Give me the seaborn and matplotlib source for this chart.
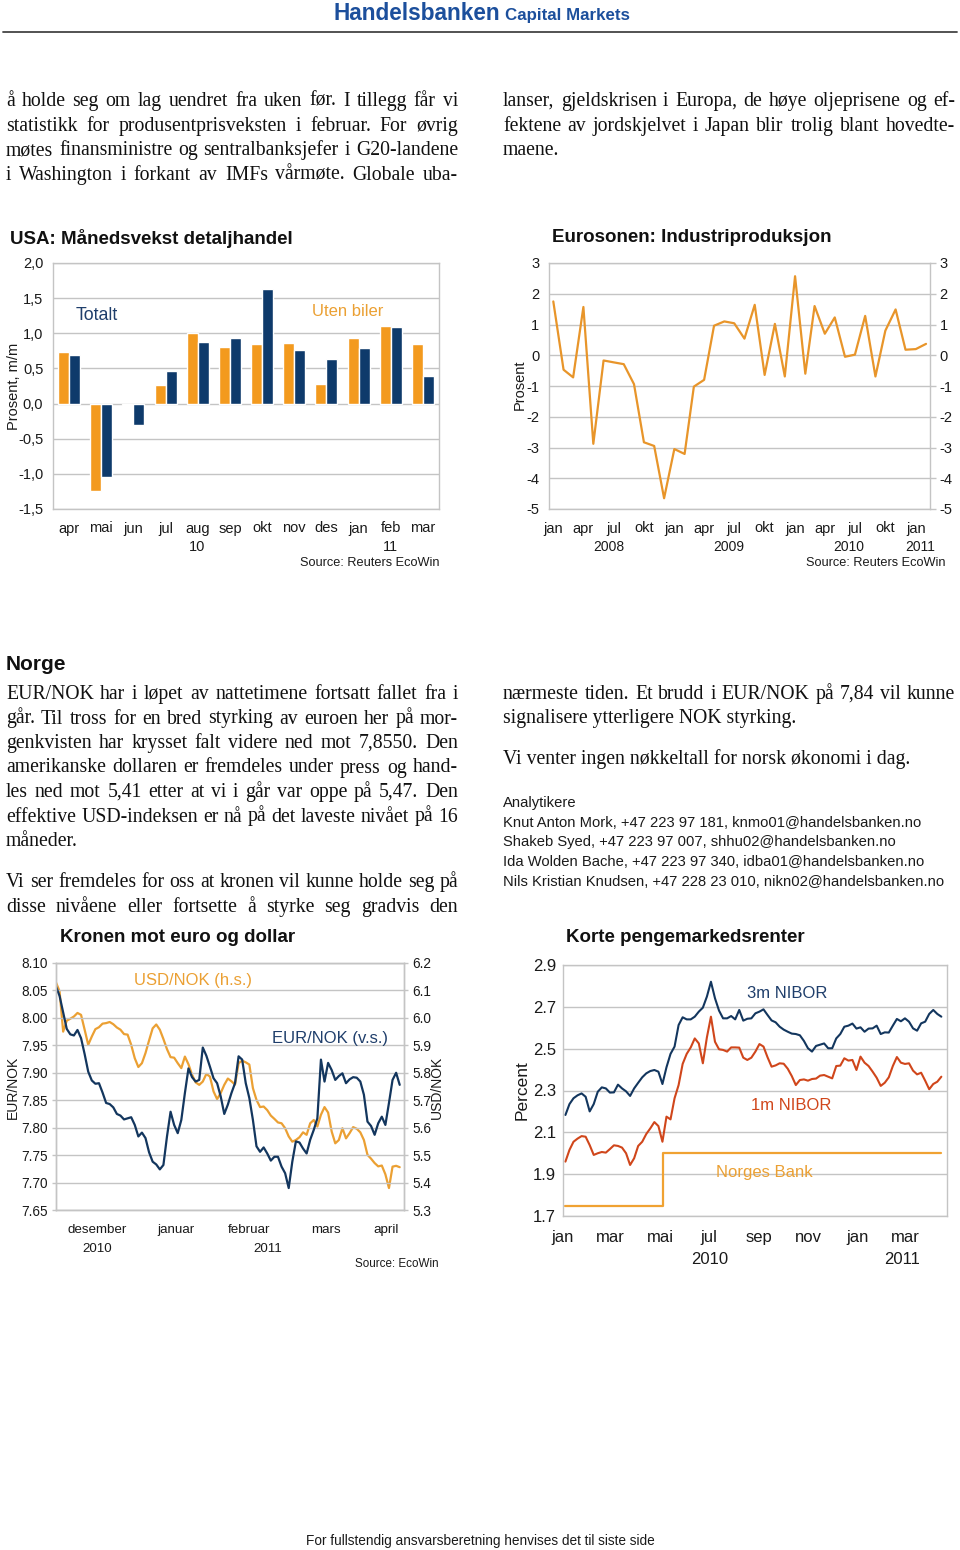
import numpy as np
import pandas as pd
import matplotlib
matplotlib.use("Agg")
import matplotlib.pyplot as plt
import matplotlib.dates as mdates
from matplotlib.lines import Line2D
from matplotlib.ticker import FuncFormatter, FixedLocator
import seaborn as sns

# ---------------- data ----------------
usa_months = ["apr", "mai", "jun", "jul", "aug", "sep", "okt", "nov", "des", "jan", "feb", "mar"]
usa_uten_biler = [0.73, -1.25, -0.02, 0.27, 1.01, 0.81, 0.85, 0.86, 0.28, 0.93, 1.10, 0.85]
usa_totalt = [0.69, -1.04, -0.30, 0.47, 0.88, 0.94, 1.63, 0.76, 0.64, 0.79, 1.09, 0.39]

euro_start = "2008-01-01"
euro_indprod = [1.75, -0.47, -0.72, 1.57, -2.88, -0.17, -0.23, -0.29, -0.94, -2.83, -2.95, -4.65,
                -3.05, -3.21, -1.02, -0.80, 0.96, 1.10, 1.04, 0.54, 1.64, -0.64, 1.02, -0.69,
                2.57, -0.60, 1.60, 0.70, 1.23, -0.05, 0.02, 1.28, -0.69, 0.80, 1.49, 0.18,
                0.20, 0.37]

nok_start = "2010-12-01"   # business days
eur_nok = [8.057, 8.040, 8.010, 7.980, 7.970, 7.968, 7.978, 7.963, 7.934, 7.902,
           7.886, 7.880, 7.881, 7.864, 7.845, 7.843, 7.837, 7.825, 7.822, 7.815,
           7.817, 7.819, 7.805, 7.784, 7.791, 7.781, 7.755, 7.738, 7.733, 7.724,
           7.732, 7.784, 7.829, 7.805, 7.790, 7.814, 7.863, 7.908, 7.892, 7.884,
           7.887, 7.946, 7.931, 7.911, 7.890, 7.881, 7.857, 7.825, 7.842, 7.863,
           7.881, 7.930, 7.924, 7.881, 7.854, 7.814, 7.766, 7.756, 7.764, 7.753,
           7.740, 7.747, 7.747, 7.729, 7.717, 7.690, 7.738, 7.775, 7.773, 7.762,
           7.753, 7.778, 7.796, 7.817, 7.924, 7.884, 7.918, 7.905, 7.887, 7.894,
           7.899, 7.881, 7.888, 7.892, 7.891, 7.884, 7.860, 7.811, 7.803, 7.787,
           7.808, 7.820, 7.805, 7.845, 7.887, 7.900, 7.878]
usd_nok = [6.129, 6.097, 5.950, 5.990, 5.997, 6.005, 6.018, 6.011, 5.957, 5.902,
           5.932, 5.959, 5.966, 5.979, 5.981, 5.985, 5.977, 5.965, 5.957, 5.941,
           5.939, 5.902, 5.853, 5.821, 5.835, 5.872, 5.918, 5.962, 5.976, 5.957,
           5.923, 5.886, 5.857, 5.855, 5.835, 5.817, 5.859, 5.831, 5.793, 5.765,
           5.756, 5.768, 5.796, 5.786, 5.732, 5.704, 5.726, 5.756, 5.779, 5.769,
           5.757, 5.835, 5.844, 5.838, 5.830, 5.744, 5.701, 5.675, 5.677, 5.664,
           5.644, 5.632, 5.619, 5.616, 5.598, 5.568, 5.549, 5.555, 5.565, 5.583,
           5.574, 5.616, 5.628, 5.604, 5.647, 5.675, 5.655, 5.586, 5.543, 5.555,
           5.598, 5.561, 5.580, 5.602, 5.596, 5.583, 5.555, 5.501, 5.487, 5.471,
           5.459, 5.462, 5.430, 5.380, 5.458, 5.461, 5.456]

nibor_start = "2010-01-04"   # every 5 days
nibor_3m = [2.183, 2.235, 2.263, 2.277, 2.286, 2.270, 2.200, 2.235, 2.294, 2.315,
            2.310, 2.290, 2.291, 2.328, 2.310, 2.296, 2.274, 2.310, 2.337, 2.363,
            2.382, 2.393, 2.398, 2.390, 2.331, 2.411, 2.475, 2.510, 2.613, 2.650,
            2.640, 2.640, 2.653, 2.677, 2.696, 2.749, 2.820, 2.741, 2.682, 2.645,
            2.645, 2.656, 2.640, 2.685, 2.634, 2.643, 2.645, 2.669, 2.677, 2.688,
            2.661, 2.635, 2.626, 2.605, 2.591, 2.581, 2.572, 2.570, 2.564, 2.537,
            2.502, 2.486, 2.513, 2.519, 2.525, 2.502, 2.502, 2.549, 2.570, 2.605,
            2.610, 2.620, 2.596, 2.602, 2.581, 2.596, 2.597, 2.610, 2.570, 2.578,
            2.577, 2.610, 2.642, 2.631, 2.645, 2.629, 2.597, 2.586, 2.621, 2.629,
            2.666, 2.685, 2.666, 2.653]
nibor_1m = [1.960, 2.016, 2.055, 2.070, 2.082, 2.079, 2.039, 1.992, 2.000, 2.006,
            2.003, 2.020, 2.038, 2.035, 2.027, 2.000, 1.944, 1.976, 2.035, 2.055,
            2.092, 2.119, 2.149, 2.130, 2.055, 2.175, 2.162, 2.263, 2.326, 2.427,
            2.475, 2.506, 2.549, 2.525, 2.430, 2.554, 2.653, 2.533, 2.497, 2.494,
            2.486, 2.506, 2.506, 2.505, 2.457, 2.446, 2.457, 2.486, 2.522, 2.510,
            2.459, 2.414, 2.420, 2.430, 2.428, 2.404, 2.369, 2.326, 2.350, 2.353,
            2.347, 2.355, 2.357, 2.371, 2.374, 2.366, 2.358, 2.417, 2.419, 2.454,
            2.443, 2.446, 2.398, 2.462, 2.433, 2.417, 2.390, 2.361, 2.322, 2.337,
            2.363, 2.417, 2.460, 2.433, 2.427, 2.430, 2.395, 2.377, 2.385, 2.347,
            2.306, 2.331, 2.342, 2.366]
norges_bank_dates = ["2010-01-04", "2010-05-05", "2011-04-13"]
norges_bank_rate = [1.75, 2.00, 2.00]

mnd_kort = ["jan", "feb", "mar", "apr", "mai", "jun", "jul", "aug", "sep", "okt", "nov", "des"]
mnd_lang = ["januar", "februar", "mars", "april", "mai", "juni", "juli", "august",
            "september", "oktober", "november", "desember"]

# ---------------- page text ----------------
top_left = ["å holde seg om lag uendret fra uken før. I tillegg får vi",
            "statistikk for produsentprisveksten i februar. For øvrig",
            "møtes finansministre og sentralbanksjefer i G20-landene",
            "i Washington i forkant av IMFs vårmøte. Globale uba-"]
top_right = ["lanser, gjeldskrisen i Europa, de høye oljeprisene og ef-",
             "fektene av jordskjelvet i Japan blir trolig blant hovedte-",
             "maene."]
norge_left = ["EUR/NOK har i løpet av nattetimene fortsatt fallet fra i",
              "går. Til tross for en bred styrking av euroen her på mor-",
              "genkvisten har krysset falt videre ned mot 7,8550. Den",
              "amerikanske dollaren er fremdeles under press og hand-",
              "les ned mot 5,41 etter at vi i går var oppe på 5,47. Den",
              "effektive USD-indeksen er nå på det laveste nivået på 16",
              "måneder."]
norge_left2 = ["Vi ser fremdeles for oss at kronen vil kunne holde seg på",
               "disse nivåene eller fortsette å styrke seg gradvis den"]
norge_right = ["nærmeste tiden. Et brudd i EUR/NOK på 7,84 vil kunne",
               "signalisere ytterligere NOK styrking."]
analytikere = ["Analytikere",
               "Knut Anton Mork, +47 223 97 181, knmo01@handelsbanken.no",
               "Shakeb Syed, +47 223 97 007, shhu02@handelsbanken.no",
               "Ida Wolden Bache, +47 223 97 340, idba01@handelsbanken.no",
               "Nils Kristian Knudsen, +47 228 23 010, nikn02@handelsbanken.no"]

# ---------------- style ----------------
sns.set_style("white")
plt.rcParams["font.family"] = ["Liberation Sans", "DejaVu Sans"]
plt.rcParams["axes.unicode_minus"] = False

ORANGE = "#F39A1E"
ORANGE_L = "#EBA033"
NAVY = "#0E3A6B"
LINE_NAVY = "#13365E"
RED = "#D0461B"
GRID = "#C4C4C4"
TXT = "#1A1A1A"

W, H = 960, 1550
fig = plt.figure(figsize=(W / 100, H / 100), dpi=100)


def rect(x0, y0, x1, y1):
    return [x0 / W, 1 - y1 / H, (x1 - x0) / W, (y1 - y0) / H]


def put(x, y, s, **kw):
    return fig.text(x / W, 1 - y / H, s, **kw)


renderer = fig.canvas.get_renderer()


def justify(line, x0, x1, y, **kw):
    words = line.split()
    texts = [put(x0, y, w, va="baseline", **kw) for w in words]
    widths = [t.get_window_extent(renderer).width for t in texts]
    gap = (x1 - x0 - sum(widths)) / max(len(words) - 1, 1)
    x = x0
    for t, w in zip(texts, widths):
        t.set_position((x / W, 1 - y / H))
        x += w + gap


def body(lines, x0, x1, y0, step, last_left=True):
    kw = dict(family="Liberation Serif", fontsize=14.2, color="#111")
    for i, line in enumerate(lines):
        y = y0 + i * step
        if last_left and i == len(lines) - 1:
            put(x0, y, line, va="baseline", **kw)
        else:
            justify(line, x0, x1, y, **kw)


def frame(ax, labelsize=10.5):
    for s in ax.spines.values():
        s.set_color(GRID)
        s.set_linewidth(1)
    ax.grid(axis="y", color=GRID, lw=1)
    ax.grid(axis="x", visible=False)
    ax.set_axisbelow(True)
    ax.tick_params(axis="both", colors=GRID, labelcolor=TXT, labelsize=labelsize,
                   length=4, width=1, direction="out", pad=3)
    ax.set_xlabel("")
    ax.set_ylabel("")


# ---------------- header / footer ----------------
put(500, 20, "Handelsbanken", ha="right", va="baseline", fontsize=16.3,
    fontweight="bold", color="#1C4F9C")
put(505, 20, "Capital Markets", ha="left", va="baseline", fontsize=12.2,
    fontweight="bold", color="#1C4F9C")
fig.add_artist(Line2D([3 / W, 957 / W], [1 - 32 / H] * 2, color="#444", lw=1.3))
put(480, 1541, "For fullstendig ansvarsberetning henvises det til siste side",
    ha="center", va="center", fontsize=9.8, color=TXT)

body(top_left, 6, 458, 106, 24.6, last_left=False)
body(top_right, 503, 955, 106, 24.6)
put(6, 665, "Norge", va="center", fontsize=15, fontweight="bold", color="#111")
body(norge_left, 6, 458, 699, 24.5)
body(norge_left2, 6, 458, 887, 24.6, last_left=False)
body(norge_right, 503, 955, 699, 24.5)
body(["Vi venter ingen nøkkeltall for norsk økonomi i dag."], 503, 955, 764, 24.5)
for i, line in enumerate(analytikere):
    put(503, 803 + i * 19.7, line, va="center", fontsize=10.6, color=TXT)

# ---------------- chart 1: USA detaljhandel ----------------
ax1 = fig.add_axes(rect(53, 263, 439, 509))
df1 = pd.DataFrame({"mnd": usa_months * 2,
                    "serie": ["Uten biler"] * 12 + ["Totalt"] * 12,
                    "verdi": usa_uten_biler + usa_totalt})
sns.barplot(data=df1, x="mnd", y="verdi", hue="serie", order=usa_months,
            hue_order=["Uten biler", "Totalt"], palette=[ORANGE, NAVY],
            width=0.68, gap=0, saturation=1, legend=False, ax=ax1)
frame(ax1)
ax1.set_ylim(-1.5, 2.0)
ax1.set_yticks(np.arange(-1.5, 2.01, 0.5))
ax1.yaxis.set_major_formatter(FuncFormatter(lambda v, p: f"{v:.1f}".replace(".", ",")))
ax1.set_xlim(-0.5, 11.5)
ax1.xaxis.set_minor_locator(FixedLocator(np.arange(-0.5, 12, 1)))
ax1.tick_params(axis="x", which="major", length=0, pad=9)
ax1.tick_params(axis="x", which="minor", length=5, color=GRID)
put(10, 238, "USA: Månedsvekst detaljhandel", va="center", fontsize=13.5, fontweight="bold", color="#111")
put(14, 386, "Prosent, m/m", rotation=90, ha="center", va="center", fontsize=10.5, color=TXT)
put(76, 315, "Totalt", va="center", fontsize=12.8, color="#1F3E6B")
put(312, 312, "Uten biler", va="center", fontsize=12, color=ORANGE_L)
put(197, 547, "10", ha="center", va="center", fontsize=10.5, color=TXT)
put(390, 547, "11", ha="center", va="center", fontsize=10.5, color=TXT)
put(439, 563, "Source: Reuters EcoWin", ha="right", va="center", fontsize=9.2, color=TXT)

# ---------------- chart 2: Eurosonen industriproduksjon ----------------
ax2 = fig.add_axes(rect(549, 263, 930, 509))
euro_dates = pd.date_range(euro_start, periods=len(euro_indprod), freq="MS")
sns.lineplot(x=euro_dates, y=euro_indprod, color="#E8952A", linewidth=1.6, ax=ax2)
frame(ax2)
ax2.set_ylim(-5, 3)
ax2.set_yticks(range(-5, 4))
ax2.tick_params(axis="y", right=True, labelright=True)
ax2.set_xlim(pd.Timestamp("2007-12-19"), pd.Timestamp("2011-02-13"))
ax2.xaxis.set_major_locator(mdates.MonthLocator(bymonth=[1, 4, 7, 10]))
ax2.xaxis.set_major_formatter(FuncFormatter(lambda v, p: mnd_kort[mdates.num2date(v).month - 1]))
ax2.tick_params(axis="x", pad=5)
put(552, 238, "Eurosonen: Industriproduksjon", va="center", fontsize=13.5, fontweight="bold", color="#111")
put(520, 385, "Prosent", rotation=90, ha="center", va="center", fontsize=10.5, color=TXT)
for x, yr in [(609, "2008"), (729, "2009"), (849, "2010"), (920, "2011")]:
    put(x, 547, yr, ha="center", va="center", fontsize=10, color=TXT)
put(945, 563, "Source: Reuters EcoWin", ha="right", va="center", fontsize=9.2, color=TXT)

# ---------------- chart 3: Kronen mot euro og dollar ----------------
ax3 = fig.add_axes(rect(56, 963, 404, 1210))
nok_dates = pd.bdate_range(nok_start, periods=len(eur_nok))
nok_idx = np.arange(len(nok_dates))
ax3b = ax3.twinx()
sns.lineplot(x=nok_idx, y=usd_nok, color=ORANGE_L, linewidth=1.6, ax=ax3b)
sns.lineplot(x=nok_idx, y=eur_nok, color=LINE_NAVY, linewidth=1.6, ax=ax3)
ax3.set_zorder(ax3b.get_zorder() + 1)
ax3.patch.set_visible(False)
frame(ax3, labelsize=9.8)
frame(ax3b, labelsize=9.8)
ax3b.grid(False)
ax3.set_ylim(7.65, 8.10)
ax3.set_yticks(np.linspace(7.65, 8.10, 10))
ax3.yaxis.set_major_formatter(FuncFormatter(lambda v, p: f"{v:.2f}"))
ax3b.set_ylim(5.3, 6.2)
ax3b.set_yticks(np.linspace(5.3, 6.2, 10))
ax3b.yaxis.set_major_formatter(FuncFormatter(lambda v, p: f"{v:.1f}"))
ax3.tick_params(axis="y", length=3, pad=3)
ax3b.tick_params(axis="y", length=3, pad=3)
ax3.set_xlim(0, 97.2)
starts = [0] + [i for i in range(1, len(nok_dates)) if nok_dates[i].month != nok_dates[i - 1].month]
mids = [(a + b) / 2 for a, b in zip(starts, starts[1:] + [97.2])]
ax3.set_xticks(starts)
ax3.set_xticklabels([])
ax3.set_xticks(mids, minor=True)
ax3.set_xticklabels([mnd_lang[nok_dates[s].month - 1] for s in starts], minor=True)
ax3.tick_params(axis="x", which="major", length=5)
ax3.tick_params(axis="x", which="minor", length=0, pad=10, labelsize=9.6, labelcolor=TXT)
put(60, 938, "Kronen mot euro og dollar", va="center", fontsize=13.5, fontweight="bold", color="#111")
put(13, 1087, "EUR/NOK", rotation=90, ha="center", va="center", fontsize=10, color=TXT)
put(437, 1087, "USD/NOK", rotation=90, ha="center", va="center", fontsize=10, color=TXT)
put(134, 981, "USD/NOK (h.s.)", va="center", fontsize=12, color=ORANGE_L)
put(272, 1038, "EUR/NOK (v.s.)", va="center", fontsize=12, color="#1F3E6B")
put(97, 1249, "2010", ha="center", va="center", fontsize=9.6, color=TXT)
put(268, 1249, "2011", ha="center", va="center", fontsize=9.6, color=TXT)
put(439, 1264, "Source: EcoWin", ha="right", va="center", fontsize=8.4, color=TXT)

# ---------------- chart 4: Korte pengemarkedsrenter ----------------
ax4 = fig.add_axes(rect(563, 965, 947, 1216))
nibor_dates = pd.date_range(nibor_start, periods=len(nibor_3m), freq="5D")
sns.lineplot(x=pd.to_datetime(norges_bank_dates), y=norges_bank_rate, drawstyle="steps-post",
             color="#F0A232", linewidth=1.6, ax=ax4)
sns.lineplot(x=nibor_dates, y=nibor_1m, color=RED, linewidth=1.5, ax=ax4)
sns.lineplot(x=nibor_dates, y=nibor_3m, color=LINE_NAVY, linewidth=1.5, ax=ax4)
frame(ax4, labelsize=12)
ax4.set_ylim(1.7, 2.9)
ax4.set_yticks(np.linspace(1.7, 2.9, 7))
ax4.yaxis.set_major_formatter(FuncFormatter(lambda v, p: f"{v:.1f}"))
ax4.set_xlim(pd.Timestamp("2010-01-01"), pd.Timestamp("2011-04-21"))
ax4.xaxis.set_major_locator(mdates.MonthLocator(bymonth=[1, 3, 5, 7, 9, 11]))
ax4.xaxis.set_minor_locator(mdates.MonthLocator())
ax4.xaxis.set_major_formatter(FuncFormatter(lambda v, p: mnd_kort[mdates.num2date(v).month - 1]))
ax4.tick_params(axis="x", which="both", length=5, color=GRID, pad=5)
ax4.tick_params(axis="y", length=2, pad=3)
put(566, 938, "Korte pengemarkedsrenter", va="center", fontsize=13.5, fontweight="bold", color="#111")
put(522, 1090, "Percent", rotation=90, ha="center", va="center", fontsize=12.5, color=TXT)
put(747, 993, "3m NIBOR", va="center", fontsize=12, color="#1F3E6B")
put(751, 1105, "1m NIBOR", va="center", fontsize=12, color=RED)
put(716, 1173, "Norges Bank", va="center", fontsize=12, color=ORANGE_L)
put(710, 1259, "2010", ha="center", va="center", fontsize=12, color=TXT)
put(902, 1259, "2011", ha="center", va="center", fontsize=12, color=TXT)

fig.savefig("out.png", dpi=100)
